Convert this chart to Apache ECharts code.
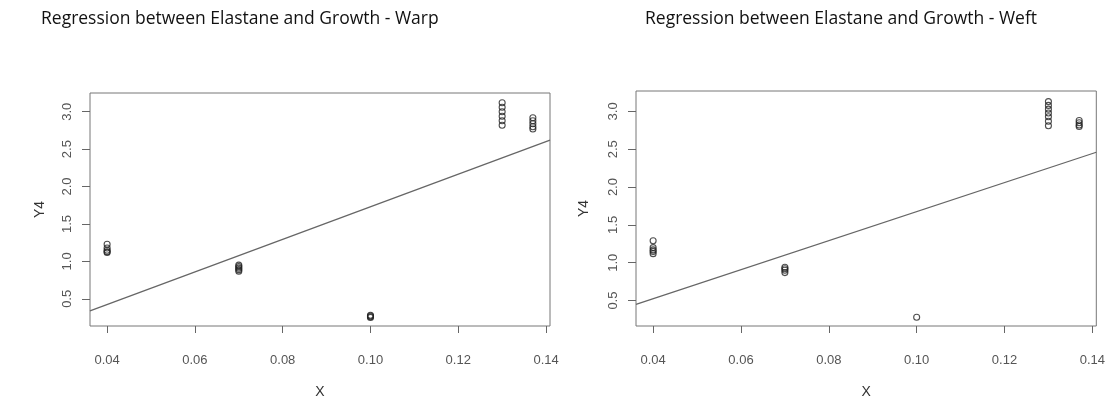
<!DOCTYPE html>
<html>
<head>
<meta charset="utf-8">
<script src="https://cdn.jsdelivr.net/npm/echarts@6/dist/echarts.min.js"></script>
<style>
  html, body { margin: 0; padding: 0; background: #fff; }
  #chart { width: 1108px; height: 404px; }
</style>
</head>
<body>
<div id="chart"></div>
<script>
// Elastane content (X) against growth (Y4), warp and weft directions
const warpX = [0.04, 0.04, 0.04, 0.04, 0.04,
               0.07, 0.07, 0.07, 0.07, 0.07,
               0.10, 0.10, 0.10, 0.10,
               0.13, 0.13, 0.13, 0.13, 0.13, 0.13,
               0.137, 0.137, 0.137, 0.137, 0.137];
const warpY = [1.23, 1.18, 1.15, 1.13, 1.12,
               0.95, 0.93, 0.91, 0.89, 0.87,
               0.28, 0.27, 0.26, 0.25,
               3.12, 3.06, 3.00, 2.94, 2.88, 2.82,
               2.92, 2.88, 2.84, 2.80, 2.77];

const weftX = [0.04, 0.04, 0.04, 0.04, 0.04,
               0.07, 0.07, 0.07, 0.07,
               0.10,
               0.13, 0.13, 0.13, 0.13, 0.13, 0.13, 0.13,
               0.137, 0.137, 0.137, 0.137];
const weftY = [1.29, 1.20, 1.17, 1.15, 1.12,
               0.94, 0.92, 0.90, 0.87,
               0.28,
               3.13, 3.08, 3.03, 2.98, 2.93, 2.87, 2.81,
               2.88, 2.85, 2.82, 2.80];

// fitted lines: [intercept, slope]
const warpFit = [-0.446, 21.76];
const weftFit = [-0.242, 19.18];

const titles = ['Regression between Elastane and Growth - Warp',
                'Regression between Elastane and Growth - Weft'];
const xTicks = [0.04, 0.06, 0.08, 0.10, 0.12, 0.14];
const yTicks = [0.5, 1.0, 1.5, 2.0, 2.5, 3.0];

const xRange = [0.0361, 0.1409];
const yRanges = [[0.137, 3.25], [0.164, 3.27]];

const pairs = (xs, ys) => xs.map((x, i) => [x, ys[i]]);
const fitLine = (c) => xRange.map(x => [x, c[0] + c[1] * x]);

const labelFont = 'Liberation Sans';
const tickColor = '#555';

function xAxisFor(idx) {
  return {
    type: 'value', gridIndex: idx,
    min: xRange[0], max: xRange[1],
    name: 'X', nameLocation: 'middle', nameGap: 59,
    nameTextStyle: { fontFamily: labelFont, fontSize: 14, color: '#333' },
    axisLine: { show: false },
    splitLine: { show: false },
    axisTick: { show: true, length: 7, customValues: xTicks, lineStyle: { color: '#666' } },
    axisLabel: {
      customValues: xTicks, margin: 28,
      fontFamily: labelFont, fontSize: 13, color: tickColor,
      formatter: v => v.toFixed(2)
    }
  };
}

function yAxisFor(idx, gap) {
  return {
    type: 'value', gridIndex: idx,
    min: yRanges[idx][0], max: yRanges[idx][1],
    name: 'Y4', nameLocation: 'middle', nameGap: gap,
    nameTextStyle: { fontFamily: labelFont, fontSize: 14, color: '#333' },
    axisLine: { show: false },
    splitLine: { show: false },
    axisTick: { show: true, length: 8, customValues: yTicks, lineStyle: { color: '#666' } },
    axisLabel: {
      customValues: yTicks, margin: 16, rotate: 90,
      fontFamily: labelFont, fontSize: 13, color: tickColor,
      formatter: v => v.toFixed(1)
    }
  };
}

const pointStyle = {
  type: 'scatter', symbol: 'circle', symbolSize: 6,
  itemStyle: { color: 'rgba(0,0,0,0)', borderColor: '#222', borderWidth: 1.1 },
  silent: true
};
const lineStyleSeries = {
  type: 'line', symbol: 'none', silent: true,
  lineStyle: { color: '#666', width: 1.3 }
};

const titleStyle = { fontFamily: 'Open Sans', fontSize: 17.5, fontWeight: 'normal', color: '#111' };

const chart = echarts.init(document.getElementById('chart'), null, { renderer: 'canvas' });
chart.setOption({
  animation: false,
  backgroundColor: '#fff',
  title: [
    { text: titles[0], left: 36, top: 5, textStyle: titleStyle },
    { text: titles[1], left: 640, top: 5, textStyle: titleStyle }
  ],
  grid: [
    { left: 90, top: 93, width: 460, height: 240, show: true, borderColor: '#777', borderWidth: 1 },
    { left: 636, top: 91, width: 461, height: 243, show: true, borderColor: '#777', borderWidth: 1 }
  ],
  xAxis: [xAxisFor(0), xAxisFor(1)],
  yAxis: [yAxisFor(0, 43), yAxisFor(1, 45)],
  series: [
    Object.assign({}, pointStyle, { xAxisIndex: 0, yAxisIndex: 0, data: pairs(warpX, warpY) }),
    Object.assign({}, lineStyleSeries, { xAxisIndex: 0, yAxisIndex: 0, data: fitLine(warpFit) }),
    Object.assign({}, pointStyle, { xAxisIndex: 1, yAxisIndex: 1, data: pairs(weftX, weftY) }),
    Object.assign({}, lineStyleSeries, { xAxisIndex: 1, yAxisIndex: 1, data: fitLine(weftFit) })
  ]
});
</script>
</body>
</html>
